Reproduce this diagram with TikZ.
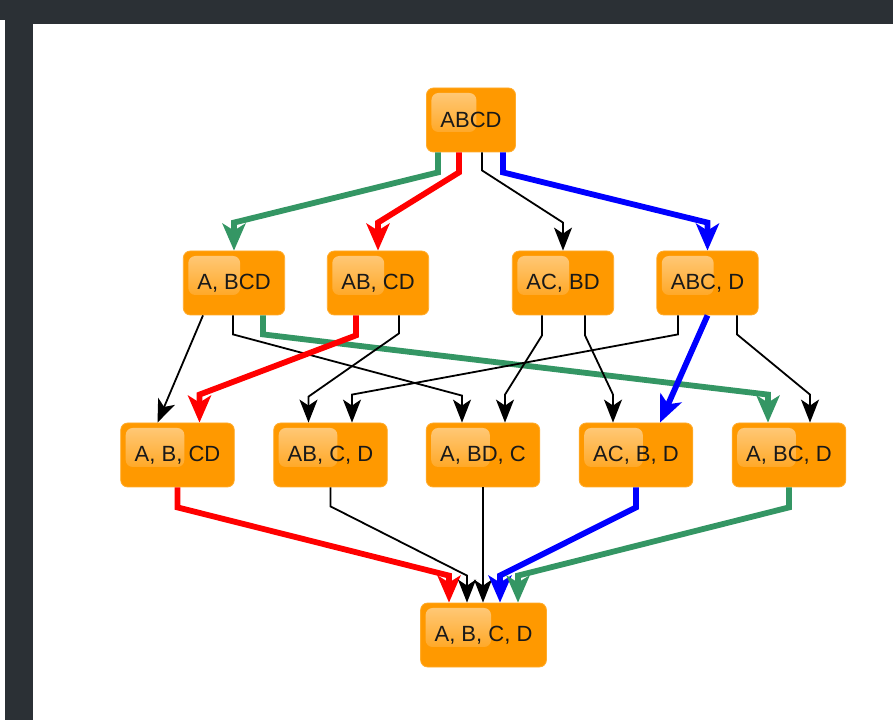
\documentclass[tikz,border=0pt]{standalone}
\usepackage{fontspec}
\setmainfont{Liberation Sans}
\usepackage{tikz}
\usetikzlibrary{arrows.meta, calc, fadings}
\definecolor{frame}{RGB}{43,48,53}
\definecolor{boxorange}{RGB}{255,153,0}
\definecolor{boxedge}{RGB}{255,172,45}
\definecolor{sgreen}{RGB}{52,150,100}
\tikzfading[name=glossfade, top color=transparent!50, bottom color=transparent!100]

\begin{document}
\begin{tikzpicture}[
  x=1pt, y=1pt,
  part/.style={rectangle, rounded corners=7pt, fill=boxorange, draw=boxedge, line width=0.8pt,
    minimum height=64pt, inner xsep=14pt, font=\fontsize{22}{26}\selectfont, text=black!90,
    path picture={\fill[white, path fading=glossfade, rounded corners=7pt]
      ([shift={(5pt,-5pt)}]path picture bounding box.north west) rectangle
      ($(path picture bounding box.north west)!0.56!(path picture bounding box.north east)+(0,-44pt)$);}},
  plain/.style={->, line width=1.8pt, >={Stealth[length=23pt, width=18pt, inset=6pt]}},
  heavy/.style={->, line width=5.8pt, >={Stealth[length=27pt, width=23pt, inset=7pt]}}
]
\fill[white] (0,0) rectangle (893,720);
\useasboundingbox (0,0) rectangle (893,720);
\fill[frame] (0,700) rectangle (893,720);
\fill[frame] (33,696) rectangle (893,700);
\fill[frame] (5,0) rectangle (33,700);

\node[part] (abcd) at (471,600) {ABCD};

\node[part] (a-bcd) at (234,437) {A, BCD};
\node[part] (ab-cd) at (378,437) {AB, CD};
\node[part] (ac-bd) at (563,437) {AC, BD};
\node[part] (abc-d) at (707.5,437) {ABC, D};

\node[part] (a-b-cd) at (177.5,265) {A, B, CD};
\node[part] (ab-c-d) at (330.5,265) {AB, C, D};
\node[part] (a-bd-c) at (483,265) {A, BD, C};
\node[part] (ac-b-d) at (636,265) {AC, B, D};
\node[part] (a-bc-d) at (789,265) {A, BC, D};

\node[part] (a-b-c-d) at (483.5,85) {A, B, C, D};

% first split
\draw[heavy, sgreen] ([xshift=-33pt]abcd.south) -- ++(0,-20) -- ([yshift=28pt]a-bcd.north) -- (a-bcd.north);
\draw[heavy, red] ([xshift=-12pt]abcd.south) -- ++(0,-20) -- ([yshift=28pt]ab-cd.north) -- (ab-cd.north);
\draw[plain] ([xshift=11pt]abcd.south) -- ++(0,-18) -- ([yshift=28pt]ac-bd.north) -- (ac-bd.north);
\draw[heavy, blue] ([xshift=32pt]abcd.south) -- ++(0,-20) -- ([yshift=28pt]abc-d.north) -- (abc-d.north);

% second split
\draw[plain] ([xshift=-31pt]a-bcd.south) -- ([xshift=-20pt]a-b-cd.north);
\draw[plain] ([xshift=-1pt]a-bcd.south) -- ++(0,-19) -- ([xshift=-21pt, yshift=27pt]a-bd-c.north) -- ([xshift=-21pt]a-bd-c.north);
\draw[heavy, sgreen] ([xshift=29pt]a-bcd.south) -- ++(0,-19) -- ([xshift=-21pt, yshift=28pt]a-bc-d.north) -- ([xshift=-21pt]a-bc-d.north);
\draw[heavy, red] ([xshift=-22pt]ab-cd.south) -- ++(0,-20) -- ([xshift=22pt, yshift=28pt]a-b-cd.north) -- ([xshift=22pt]a-b-cd.north);
\draw[plain] ([xshift=21pt]ab-cd.south) -- ++(0,-18) -- ([xshift=-22pt, yshift=26pt]ab-c-d.north) -- ([xshift=-22pt]ab-c-d.north);
\draw[plain] ([xshift=-21pt]ac-bd.south) -- ++(0,-20) -- ([xshift=22pt, yshift=28pt]a-bd-c.north) -- ([xshift=22pt]a-bd-c.north);
\draw[plain] ([xshift=22pt]ac-bd.south) -- ++(0,-20) -- ([xshift=-23pt, yshift=28pt]ac-b-d.north) -- ([xshift=-23pt]ac-b-d.north);
\draw[plain] ([xshift=-29.5pt]abc-d.south) -- ++(0,-19) -- ([xshift=21.5pt, yshift=28pt]ab-c-d.north) -- ([xshift=21.5pt]ab-c-d.north);
\draw[heavy, blue] (abc-d.south) -- ([xshift=24pt]ac-b-d.north);
\draw[plain] ([xshift=29.5pt]abc-d.south) -- ++(0,-19) -- ([xshift=21pt, yshift=28pt]a-bc-d.north) -- ([xshift=21pt]a-bc-d.north);

% last split
\draw[heavy, red] (a-b-cd.south) -- ++(0,-20) -- ([xshift=-34.5pt, yshift=27pt]a-b-c-d.north) -- ([xshift=-34.5pt]a-b-c-d.north);
\draw[plain] (ab-c-d.south) -- ++(0,-19) -- ([xshift=-16.5pt, yshift=27pt]a-b-c-d.north) -- ([xshift=-16.5pt]a-b-c-d.north);
\draw[plain] (a-bd-c.south) -- (a-bd-c.south |- a-b-c-d.north);
\draw[heavy, blue] (ac-b-d.south) -- ++(0,-20) -- ([xshift=16.5pt, yshift=27pt]a-b-c-d.north) -- ([xshift=16.5pt]a-b-c-d.north);
\draw[heavy, sgreen] (a-bc-d.south) -- ++(0,-20) -- ([xshift=34.5pt, yshift=27pt]a-b-c-d.north) -- ([xshift=34.5pt]a-b-c-d.north);
\end{tikzpicture}
\end{document}
